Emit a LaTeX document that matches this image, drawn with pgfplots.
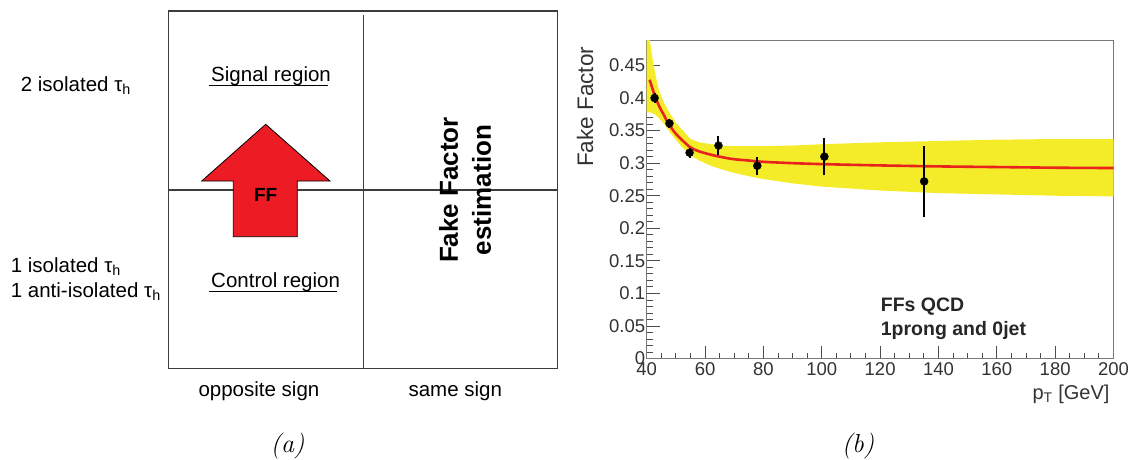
\documentclass[border=0pt]{standalone}
\usepackage{fontspec}
\usepackage{pgfplots}
\pgfplotsset{compat=1.18}
\newfontfamily\arial{Liberation Sans}
\definecolor{ffred}{RGB}{237,28,36}
\definecolor{bandyel}{RGB}{244,236,40}
\definecolor{fitred}{RGB}{232,35,30}
\definecolor{framegray}{RGB}{120,120,120}
\definecolor{boxline}{RGB}{60,60,60}

\pgfplotstableread{
x y ey
42.7 0.400 0.0075
47.8 0.361 0.007
54.7 0.316 0.008
64.6 0.327 0.014
77.9 0.296 0.014
100.9 0.310 0.028
135.1 0.272 0.054
}\ffdata

\pgfplotstableread{
x y
41 0.428
42 0.414
43 0.401
44 0.390
45 0.381
46 0.373
47 0.364
48 0.357
50 0.345
52 0.336
55 0.324
58 0.318
62 0.313
66 0.309
70 0.306
75 0.304
80 0.302
90 0.300
100 0.2985
120 0.2965
140 0.295
160 0.294
180 0.293
200 0.2925
}\fitdata

\begin{document}
\begin{tikzpicture}
\path[use as bounding box] (0pt,0pt) rectangle (1137pt,459pt);
% ---------- panel (a): diagram in pixel coordinates ----------
\begin{axis}[at={(0pt,0pt)}, anchor=south west, scale only axis,
  width=1137pt, height=459pt, xmin=0, xmax=1137, ymin=0, ymax=459,
  y dir=reverse, axis lines=none, ticks=none, clip=false]
  \draw[boxline, line width=1.2pt] (168.7,11) rectangle (557.7,368.3);
  \draw[boxline, line width=1.2pt] (363.3,15) -- (363.3,368.3);
  \draw[boxline, line width=1.2pt] (168.7,190) -- (557.7,190);
  \addplot[fill=ffred, draw=black, line width=0.8pt] coordinates {
    (233.3,236.7) (233.3,181) (201.7,181) (265.7,124.3) (330,181) (297.3,181) (297.3,236.7)} -- cycle;
  \node[font=\arial\bfseries\fontsize{19}{22}\selectfont] at (265.7,195) {FF};
  \node[anchor=base west, font=\arial\fontsize{20.5}{24}\selectfont] at (207.7,81.7) {Signal region};
  \draw[black, line width=1.1pt] (208.5,85.8) -- (327.5,85.8);
  \node[anchor=base west, font=\arial\fontsize{20.5}{24}\selectfont] at (207.7,287.7) {Control region};
  \draw[black, line width=1.1pt] (208.5,291.8) -- (336.5,291.8);
  \node[anchor=base west, font=\arial\fontsize{20.5}{24}\selectfont] at (17.3,91.7) {2 isolated τ\textsubscript{h}};
  \node[anchor=base west, font=\arial\fontsize{20.5}{24}\selectfont] at (7.3,272.7) {1 isolated τ\textsubscript{h}};
  \node[anchor=base west, font=\arial\fontsize{20.5}{24}\selectfont] at (7.3,297.3) {1 anti-isolated τ\textsubscript{h}};
  \node[anchor=base west, font=\arial\fontsize{20.5}{24}\selectfont] at (195,396.7) {opposite sign};
  \node[anchor=base west, font=\arial\fontsize{20.5}{24}\selectfont] at (405,396.7) {same sign};
  \node[rotate=90, font=\arial\bfseries\fontsize{26}{30}\selectfont] at (448.7,190) {Fake Factor};
  \node[rotate=90, font=\arial\bfseries\fontsize{26}{30}\selectfont] at (481.5,190) {estimation};
  \node[anchor=base, font=\fontsize{26}{29}\selectfont\itshape] at (287.5,452.5) {(a)};
  \node[anchor=base, font=\fontsize{26}{29}\selectfont\itshape] at (858,452.5) {(b)};
  % labels of panel (b)
  \node[rotate=90, anchor=east, text=black!80, font=\arial\fontsize{22.5}{26}\selectfont] at (585,43.3) {Fake Factor};
  \node[anchor=base east, text=black!80, font=\arial\fontsize{20}{24}\selectfont] at (1113,399) {p\textsubscript{T} [GeV]};
  \node[anchor=base west, text=black!85, font=\arial\bfseries\fontsize{19.5}{23}\selectfont] at (877.3,311) {FFs QCD};
  \node[anchor=base west, text=black!85, font=\arial\bfseries\fontsize{19.5}{23}\selectfont] at (877.3,335) {1prong and 0jet};
\end{axis}
% ---------- panel (b): fake factor plot ----------
\begin{axis}[at={(646.7pt,100.4pt)}, anchor=south west, scale only axis,
  width=466.8pt, height=318.6pt,
  xmin=40, xmax=200, ymin=0, ymax=0.489,
  axis line style={framegray, line width=1pt},
  xtick={40,60,...,200},
  ytick={0,0.05,0.1,0.15,0.2,0.25,0.3,0.35,0.4,0.45},
  yticklabels={0,0.05,0.1,0.15,0.2,0.25,0.3,0.35,0.4,0.45},
  scaled y ticks=false,
  minor x tick num=3, minor y tick num=4,
  tick align=inside, tick pos=left,
  major tick length=13pt, minor tick length=6pt,
  tick style={black!70, line width=0.9pt},
  ticklabel style={font=\arial\fontsize{18.5}{20}\selectfont, text=black!80},
  /pgf/number format/assume math mode=true,
  yticklabel style={xshift=2pt}]
  \addplot[fill=bandyel, draw=none] coordinates {
    (40,0.49) (41,0.49) (42,0.46) (43,0.435) (44,0.415) (45,0.402) (46,0.392)
    (48,0.376) (50,0.362) (52,0.352) (55,0.337) (58,0.332) (62,0.329) (66,0.327)
    (70,0.326) (78,0.326) (90,0.327) (100,0.329) (120,0.332) (140,0.334)
    (160,0.336) (180,0.337) (200,0.337)
    (200,0.249) (180,0.250) (160,0.252) (140,0.254) (120,0.258) (100,0.264)
    (90,0.269) (78,0.277) (70,0.285) (66,0.290) (62,0.296) (58,0.304) (55,0.312)
    (52,0.325) (50,0.336) (48,0.347) (46,0.360) (45,0.365) (44,0.370) (43,0.374)
    (42,0.377) (41,0.378) (40,0.378)} -- cycle;
  \addplot[fitred, line width=2.6pt, smooth] table[x=x, y=y] {\fitdata};
  \addplot[black, only marks, mark=*, mark size=4pt,
    error bars/.cd, y dir=both, y explicit,
    error bar style={line width=2pt, black}, error mark=none]
    table[x=x, y=y, y error=ey] {\ffdata};
\end{axis}
\end{tikzpicture}
\end{document}
